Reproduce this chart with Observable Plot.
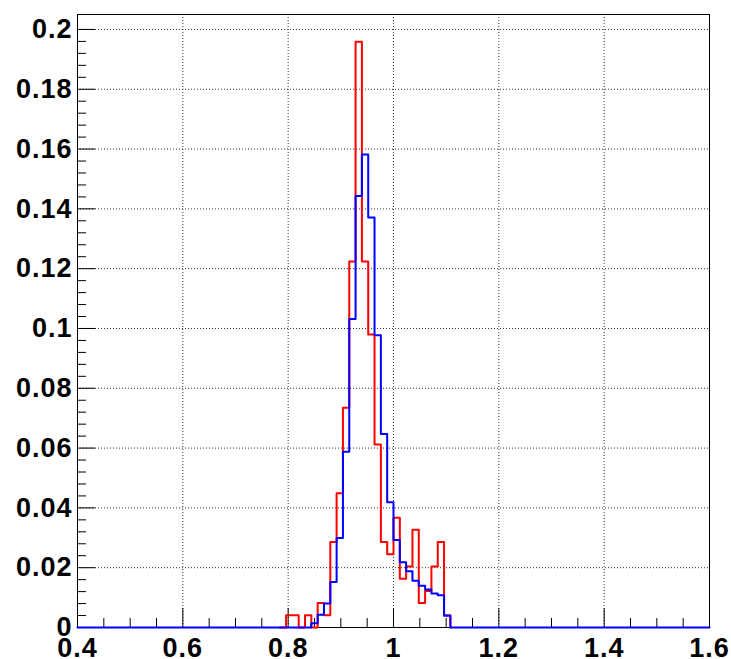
<!DOCTYPE html>
<html>
<head>
<meta charset="utf-8">
<script src="https://cdn.jsdelivr.net/npm/d3@7"></script>
<script src="https://cdn.jsdelivr.net/npm/@observablehq/plot@0.6"></script>
<style>
  html, body { margin: 0; padding: 0; background: #fff; }
</style>
</head>
<body>
<div id="chart"></div>
<script>
// Histogram definition: 100 bins from 0.4 to 1.6
const histMin = 0.4;
const histMax = 1.6;
const nBins = 100;
const firstFilledBin = 33; // bins before this are empty

// Normalised bin contents starting at bin 33 (x = 0.796)
const redValues = [
  0.0041, 0.0041, 0, 0.0041, 0, 0.0082, 0.0041, 0.0286, 0.0449, 0.0735,
  0.1224, 0.1959, 0.1224, 0.0980, 0.0612, 0.0286, 0.0245, 0.0367, 0.0163, 0.0204,
  0.0327, 0.0082, 0.0122, 0.0204, 0.0286, 0.0041
];
const blueValues = [
  0, 0, 0, 0, 0.0014, 0.0043, 0.0080, 0.0152, 0.0299, 0.0588,
  0.1032, 0.1443, 0.1582, 0.1371, 0.0977, 0.0647, 0.0419, 0.0293, 0.0218, 0.0188,
  0.0156, 0.0140, 0.0127, 0.0114, 0.0108, 0.0039
];

const xTicks = [0.4, 0.6, 0.8, 1.0, 1.2, 1.4, 1.6];
const xTickLabels = ["0.4", "0.6", "0.8", "1", "1.2", "1.4", "1.6"];
const yTicks = [0, 0.02, 0.04, 0.06, 0.08, 0.1, 0.12, 0.14, 0.16, 0.18, 0.2];
const yTickLabels = ["0", "0.02", "0.04", "0.06", "0.08", "0.1", "0.12", "0.14", "0.16", "0.18", "0.2"];
const xMinorStep = 0.05;
const yMinorStep = 0.004;
const yMax = 0.205;

const binW = (histMax - histMin) / nBins;

// build step outline points (full range)
function histPoints(values) {
  const pts = [];
  for (let k = 0; k < nBins; k++) {
    const i = k - firstFilledBin;
    const v = (i >= 0 && i < values.length) ? values[i] : 0;
    pts.push({x: histMin + k * binW, y: v});
  }
  pts.push({x: histMax, y: pts[pts.length - 1].y});
  return pts;
}
// step outline restricted to the filled bins (the rest lies under the blue baseline)
function histPointsFilled(values) {
  const pts = values.map((v, i) => ({x: histMin + (firstFilledBin + i) * binW, y: v}));
  pts.unshift({x: histMin + (firstFilledBin - 1) * binW, y: 0});
  pts.push({x: histMin + (firstFilledBin + values.length) * binW, y: 0});
  return pts;
}
const redPts = histPointsFilled(redValues);
const bluePts = histPoints(blueValues);

const xMinor = d3.range(0, Math.round((histMax - histMin) / xMinorStep) + 1)
  .map(i => +(histMin + i * xMinorStep).toFixed(3))
  .filter(v => !xTicks.some(t => Math.abs(t - v) < 1e-9));
const yMinor = d3.range(0, Math.round(0.2 / yMinorStep) + 1)
  .map(i => +(i * yMinorStep).toFixed(4))
  .filter(v => !yTicks.some(t => Math.abs(t - v) < 1e-9));

const W = 731, H = 659;
const mL = 77, mR = 22, mT = 14, mB = 32;
const innerW = W - mL - mR, innerH = H - mT - mB;

const gridX = xTicks.slice(1, -1);
const gridY = yTicks.slice(1);

const chart = Plot.plot({
  width: W,
  height: H,
  marginLeft: mL,
  marginRight: mR,
  marginTop: mT,
  marginBottom: mB,
  style: {fontFamily: "'Liberation Sans', Arial, sans-serif", fontSize: "27px", fontWeight: "bold", letterSpacing: "1px", background: "#fff"},
  x: {domain: [histMin, histMax]},
  y: {domain: [0, yMax]},
  marks: [
    Plot.ruleX(gridX, {x: d => d, stroke: "#333", strokeWidth: 1, strokeDasharray: "1,2"}),
    Plot.ruleY(gridY, {y: d => d, stroke: "#333", strokeWidth: 1, strokeDasharray: "1,2"}),
    Plot.tickX(xTicks, {x: d => d, stroke: "#000", strokeWidth: 1, insetTop: innerH - 19}),
    Plot.tickX(xMinor, {x: d => d, stroke: "#000", strokeWidth: 1, insetTop: innerH - 9}),
    Plot.tickY(yTicks, {y: d => d, stroke: "#000", strokeWidth: 1, insetRight: innerW - 18}),
    Plot.tickY(yMinor, {y: d => d, stroke: "#000", strokeWidth: 1, insetRight: innerW - 9}),
    Plot.frame({stroke: "#000", strokeWidth: 1}),
    Plot.axisX({ticks: xTicks, tickFormat: (d, i) => xTickLabels[i], tickSize: 0, tickPadding: 10,
      fontSize: 27, fontWeight: "bold", label: null}),
    Plot.axisY({ticks: yTicks, tickFormat: (d, i) => yTickLabels[i], tickSize: 0, tickPadding: 5,
      fontSize: 27, fontWeight: "bold", label: null}),
    Plot.line(redPts, {x: "x", y: "y", curve: "step-after", stroke: "#ff0000", strokeWidth: 2}),
    Plot.line(bluePts, {x: "x", y: "y", curve: "step-after", stroke: "#0000ff", strokeWidth: 2})
  ]
});
document.getElementById("chart").appendChild(chart);
</script>
</body>
</html>
